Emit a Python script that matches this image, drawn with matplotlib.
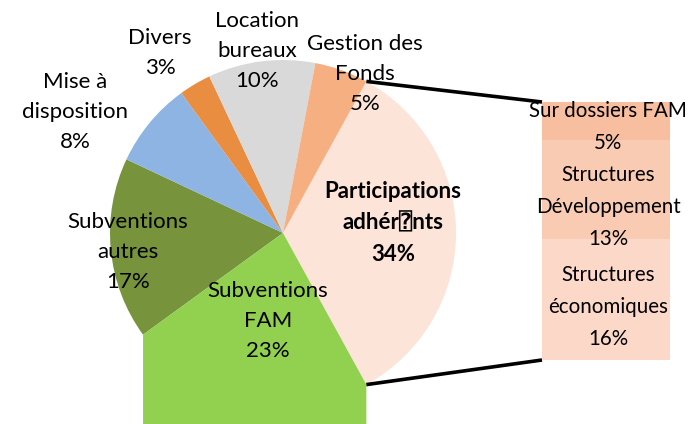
import matplotlib
matplotlib.use("Agg")
import matplotlib.pyplot as plt
from matplotlib.patches import Polygon
import numpy as np

# ---- data ----
pie_labels = ["Participations\nadhér\u2370nts", "Subventions\nFAM", "Subventions\nautres",
              "Mise à\ndisposition", "Divers", "Location\nbureaux", "Gestion des\nFonds"]
pie_values = [34, 23, 17, 8, 3, 10, 5]
pie_colors = ["#FCE4D8", "#92D050", "#77933C", "#8DB4E2", "#E98D41", "#D9D9D9", "#F5AF80"]

bar_labels = ["Sur dossiers FAM", "Structures\nDéveloppement", "Structures\néconomiques"]
bar_values = [5, 13, 16]
bar_colors = ["#F7BE9F", "#F8CBB2", "#FBD8C8"]

plt.rcParams['font.family'] = ['Lato', 'DejaVu Sans', 'DejaVu Sans Mono']

W, H = 690, 424
fig = plt.figure(figsize=(W / 100, H / 100), dpi=100)
ax = fig.add_axes([0, 0, 1, 1])

cx, cy, R = 283, 191, 173
total = sum(pie_values)
start = 360 * pie_values[0] / total / 2  # "other" slice centred towards the bar
wedges, _ = ax.pie(pie_values, colors=pie_colors, startangle=start, counterclock=False,
                   center=(cx, cy), radius=R, frame=True,
                   wedgeprops=dict(linewidth=0))

# Subventions FAM wedge rendered as in the reference (arc replaced by a block reaching the bottom)
g = wedges[1]
t1, t2 = np.deg2rad(g.theta1), np.deg2rad(g.theta2)
A = (cx + R * np.cos(t2), cy + R * np.sin(t2))
B = (cx + R * np.cos(t1), cy + R * np.sin(t1))
g.set_visible(False)
ax.add_patch(Polygon([(cx, cy), A, (A[0], -50), (B[0], -50), B], closed=True,
                     facecolor=pie_colors[1], edgecolor='none', zorder=g.get_zorder()))

# stacked bar
bx0, bx1, by0, by1 = 542, 670, 64, 322
scale = (by1 - by0) / sum(bar_values)
top = by1
for lab, v, c in zip(bar_labels, bar_values, bar_colors):
    h = v * scale
    ax.bar((bx0 + bx1) / 2, h, width=bx1 - bx0, bottom=top - h, color=c, linewidth=0)
    top -= h

# connector lines
p = wedges[0]
pt1, pt2 = np.deg2rad(p.theta1), np.deg2rad(p.theta2)
P_top = (cx + R * np.cos(pt2), cy + R * np.sin(pt2))
P_bot = (cx + R * np.cos(pt1), cy + R * np.sin(pt1))
ax.plot([P_top[0], bx0], [P_top[1], by1], color='black', lw=2.6, solid_capstyle='butt', zorder=5)
ax.plot([P_bot[0], bx0], [P_bot[1], by0], color='black', lw=2.6, solid_capstyle='butt', zorder=5)

fs = 16
ls = 1.62
label_pos = [(393, 223), (268, 321), (128, 252), (75, 112), (160, 53), (257, 51), (365, 74)]
for i, (lab, v) in enumerate(zip(pie_labels, pie_values)):
    x, y = label_pos[i]
    ax.text(x, H - y, f"{lab}\n{v}%", ha='center', va='center', fontsize=fs,
            linespacing=ls, fontweight='bold' if i == 0 else 'normal', zorder=6)

bar_label_y = [127, 207, 307]
for lab, v, y in zip(bar_labels, bar_values, bar_label_y):
    ax.text(608, H - y, f"{lab}\n{v}%", ha='center', va='center', fontsize=14.8,
            linespacing=1.75, zorder=6)

ax.set_xlim(0, W)
ax.set_ylim(0, H)
ax.set_aspect('auto')
ax.axis('off')
fig.savefig("out.png", dpi=100)
